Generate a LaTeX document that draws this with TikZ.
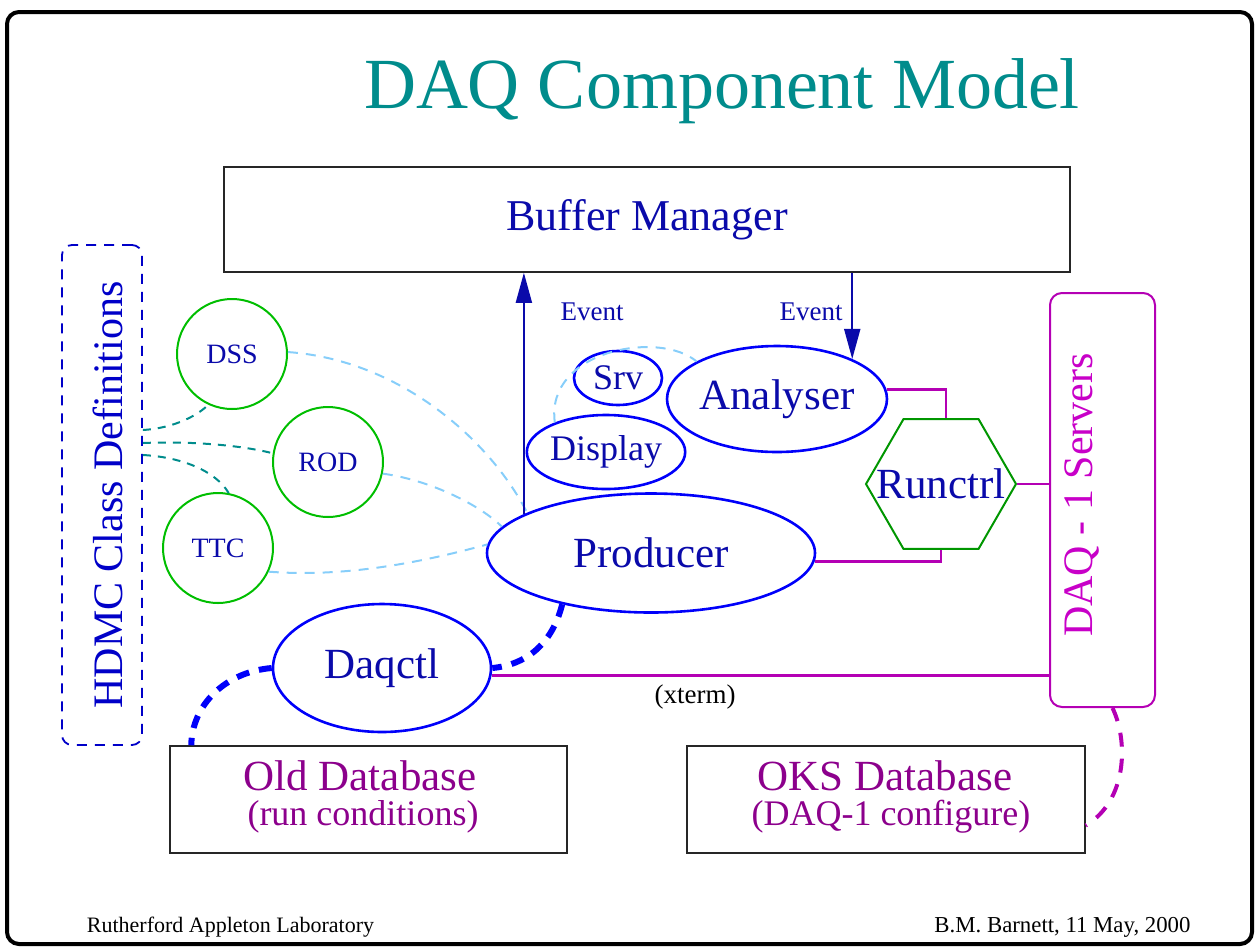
\documentclass[tikz,border=0pt]{standalone}
\usepackage{fontspec}
\setmainfont{Liberation Serif}
\usetikzlibrary{shapes.geometric,arrows.meta}
\definecolor{titleteal}{RGB}{0,140,140}
\definecolor{tblue}{RGB}{10,10,170}
\definecolor{eblue}{RGB}{0,0,250}
\definecolor{cgreen}{RGB}{0,190,0}
\definecolor{hgreen}{RGB}{0,150,0}
\definecolor{magL}{RGB}{180,0,180}
\definecolor{magT}{RGB}{200,0,200}
\definecolor{purp}{RGB}{140,0,140}
\definecolor{lblue}{RGB}{135,206,250}
\definecolor{tdash}{RGB}{0,140,140}
\definecolor{hblue}{RGB}{0,0,200}
\newcommand\fsz[1]{\fontsize{#1}{#1}\selectfont}
\begin{document}
\begin{tikzpicture}[x=1pt,y=-1pt,
  ell/.style={ellipse, draw=eblue, line width=2.6pt, inner sep=0pt, text=tblue, font=\fsz{43}},
  circ/.style={circle, draw=cgreen, line width=2pt, minimum size=110pt, inner sep=0pt, text=tblue, font=\fsz{28}},
  plainbox/.style={rectangle, draw=black!85, line width=1.5pt, inner sep=0pt},
  dbtext/.style={anchor=base, text=purp, inner sep=0pt},
  evt/.style={draw=tblue, line width=1.8pt, -{Triangle[length=30pt,width=16pt]}},
  evlabel/.style={text=tblue, font=\fsz{27}, inner sep=0pt},
  magline/.style={draw=magL, line width=2.8pt},
  magdash/.style={draw=magL, line width=4pt, dash pattern=on 14pt off 12pt},
  bdash/.style={draw=eblue, line width=6pt, dash pattern=on 13pt off 10pt},
  tealdash/.style={draw=tdash, line width=2pt, dash pattern=on 8pt off 7pt},
  lbdash/.style={draw=lblue, line width=2pt, dash pattern=on 10pt off 8pt},
  footer/.style={inner sep=0pt, anchor=base}
]
\useasboundingbox (0,0) rectangle (1258,946);
% frame
\draw[line width=4pt, rounded corners=12pt] (7,12) rectangle (1252,944);
% title
\node[anchor=base, text=titleteal, font=\fsz{72}, inner sep=0pt] (title) at (722,108) {DAQ Component Model};
% boxes
\node[plainbox, minimum width=846pt, minimum height=105pt, text=tblue, font=\fsz{44}] (buf) at (647,219.5) {Buffer Manager};
\node[rectangle, draw=hblue, line width=1.8pt, dash pattern=on 10pt off 8pt, rounded corners=10pt, minimum width=80pt, minimum height=500pt] (hdmc) at (102,495) {};
\node[anchor=base, rotate=90, text=hblue, font=\fsz{42}, inner sep=0pt] (hdmct) at (122,495) {HDMC Class Definitions};
\node[rectangle, draw=magL, line width=2pt, rounded corners=12pt, minimum width=105pt, minimum height=414pt] (daq) at (1102.5,500) {};
\node[anchor=base, rotate=90, text=magT, font=\fsz{42}, inner sep=0pt] (daqt) at (1092,495) {DAQ - 1 Servers};
\node[plainbox, minimum width=397pt, minimum height=107pt] (olddb) at (368.5,799.5) {};
\node[dbtext, font=\fsz{43}] (oldt1) at (360,790) {Old Database};
\node[dbtext, font=\fsz{36}] (oldt2) at (363,825) {(run conditions)};
\node[plainbox, minimum width=398pt, minimum height=107pt] (oks) at (886,799.5) {};
\node[dbtext, font=\fsz{43}] (okst1) at (885,790) {OKS Database};
\node[dbtext, font=\fsz{36}] (okst2) at (891,825) {(DAQ-1 configure)};
% circles
\node[circ] (dss) at (232,354) {DSS};
\node[circ] (rod) at (328,462) {ROD};
\node[circ] (ttc) at (218,548) {TTC};
% ellipses
\node[ell, minimum width=88pt, minimum height=54pt, font=\fsz{36}] (srv) at (618,378) {Srv};
\node[ell, minimum width=154pt, minimum height=74pt, font=\fsz{36}] (disp) at (606,452) {Display};
\node[ell, minimum width=220pt, minimum height=106pt] (ana) at (777,399) {Analyser};
\node[ell, minimum width=328pt, minimum height=119pt] (prod) at (651,553) {Producer};
\node[ell, minimum width=218pt, minimum height=128pt] (daqctl) at (382,668) {Daqctl};
% hexagon
\node[regular polygon, regular polygon sides=6, minimum size=150pt, draw=hgreen, line width=2pt, inner sep=0pt] (run) at (941,484) {};
\node[text=tblue, font=\fsz{43}, inner sep=0pt] (runt) at (run.center) {Runctrl};
% teal dashes from HDMC
\draw[tealdash] ([yshift=65pt]hdmc.east) .. controls (175,428) and (198,415) .. (dss.245);
\draw[tealdash] ([yshift=52pt]hdmc.east) .. controls (190,441) and (240,445) .. (rod.171);
\draw[tealdash] ([yshift=40pt]hdmc.east) .. controls (180,457) and (215,470) .. (ttc.79);
% light blue dashes
\draw[lbdash] (dss.2) .. controls (400,360) and (490,440) .. (prod.162);
\draw[lbdash] (rod.-12) .. controls (430,480) and (480,505) .. (prod.170);
\draw[lbdash] (ttc.-25) .. controls (350,578) and (430,560) .. (prod.177);
\draw[lbdash] (disp.150) .. controls (545,350) and (660,330) .. (ana.155);
% event arrows
\path (prod.163) coordinate (pup);
\draw[evt] (pup) -- (pup |- buf.south);
\path (ana.28) coordinate (atop);
\draw[evt] (atop |- buf.south) -- (atop);
\node[evlabel] (ev1) at (592,312) {Event};
\node[evlabel] (ev2) at (811,312) {Event};
% magenta connectors
\draw[magline] (ana.5) -| ([xshift=5pt]run.north);
\draw[magline] (prod.-3) -| (run.south);
\draw[magline] (run.east) -- (run.east -| daq.west);
\draw[magline] (daqctl.-4) -- (daqctl.-4 -| daq.west);
\node[font=\fsz{27}, inner sep=0pt] (xterm) at (695,697) {(xterm)};
% dashed thick links
\draw[bdash] (prod.210) .. controls (552,645) and (525,665) .. (daqctl.east);
\draw[bdash] (daqctl.west) .. controls (225,672) and (192,705) .. ([xshift=22pt]olddb.north west);
\draw[magdash] ([xshift=10pt]daq.south) .. controls (1128,740) and (1128,800) .. ([yshift=-26pt]oks.east);
% footer
\node[footer, font=\fsz{22}] (foot1) at (230.5,932) {Rutherford Appleton Laboratory};
\node[footer, font=\fsz{22.8}] (foot2) at (1062.5,932) {B.M. Barnett, 11 May, 2000};
\end{tikzpicture}
\end{document}
